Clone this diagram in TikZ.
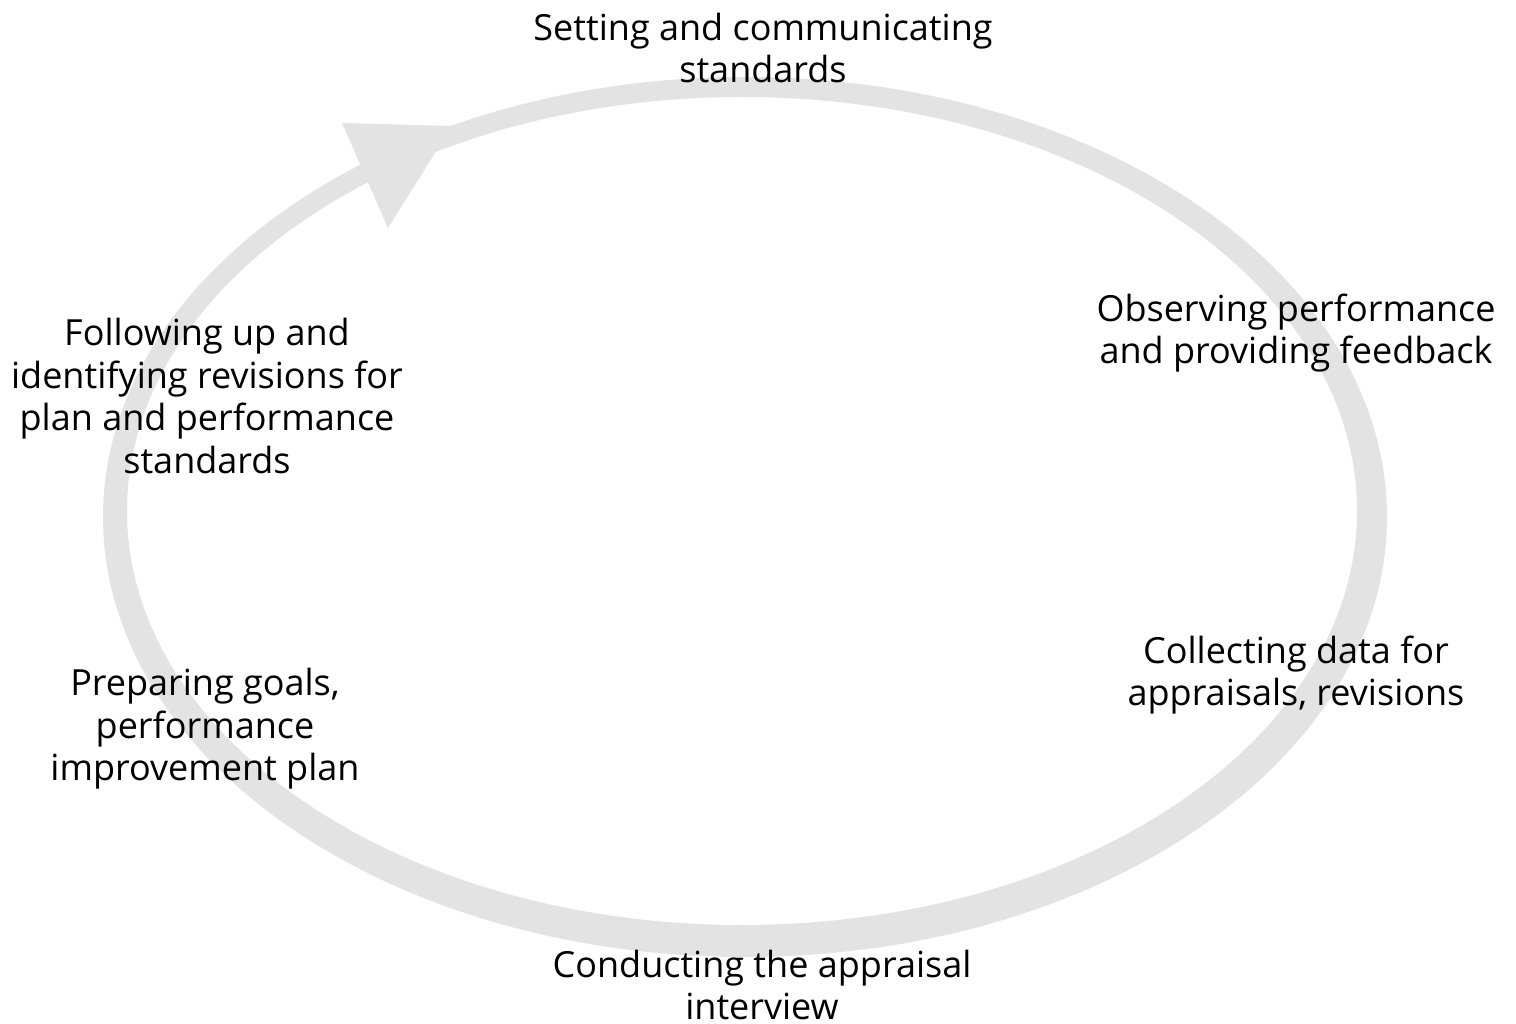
\documentclass[tikz,border=0pt]{standalone}
\usepackage{fontspec}
\setmainfont{Open Sans}
\definecolor{ringgray}{RGB}{227,227,227}
\begin{document}
\begin{tikzpicture}[x=1pt,y=-1pt,
  lbl/.style={align=center, font=\fontsize{36}{42.5}\selectfont, inner sep=0pt, text=black}]
\useasboundingbox (0,0) rectangle (1516,1024);
% ring
\fill[ringgray, even odd rule] (745,517) ellipse [x radius=642, y radius=440]
                                (742,511) ellipse [x radius=615, y radius=414];
% arrowhead
\fill[ringgray] (342,123) -- (388,228) -- (452,126) -- cycle;
% labels
\node[lbl] (setting) at (763,48) {Setting and communicating\\standards};
\node[lbl] (observing) at (1296,333) {Observing performance\\and providing feedback};
\node[lbl] (collecting) at (1296,675) {Collecting data for\\appraisals, revisions};
\node[lbl] (conducting) at (762,985) {Conducting the appraisal\\interview};
\node[lbl] (preparing) at (205,729) {Preparing goals,\\performance\\improvement plan};
\node[lbl] (following) at (207,396) {Following up and\\identifying revisions for\\plan and performance\\standards};
\end{tikzpicture}
\end{document}
